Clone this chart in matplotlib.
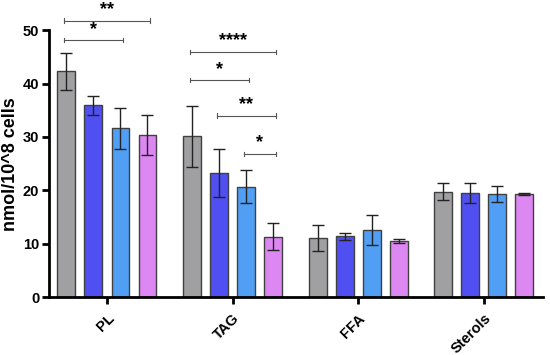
import matplotlib
matplotlib.use("Agg")
import matplotlib.pyplot as plt
import numpy as np

plt.rcParams["font.family"] = ["Liberation Sans", "DejaVu Sans"]

categories = ["PL", "TAG", "FFA", "Sterols"]
series_colors = ["#a0a0a2", "#5050f2", "#509ff5", "#dd88f2"]
means = [
    [42.3, 30.1, 11.1, 19.7],
    [35.9, 23.2, 11.4, 19.5],
    [31.6, 20.7, 12.6, 19.3],
    [30.4, 11.3, 10.5, 19.3],
]
errs = [
    [3.5, 5.7, 2.5, 1.6],
    [1.7, 4.5, 0.7, 1.9],
    [3.8, 3.1, 2.8, 1.5],
    [3.7, 2.5, 0.4, 0.15],
]
# significance brackets: (group, series_a, series_b, y, label)
brackets = [
    (0, 0, 3, 51.8, "**"),
    (0, 0, 2, 48.1, "*"),
    (1, 0, 3, 45.9, "****"),
    (1, 0, 2, 40.6, "*"),
    (1, 1, 3, 34.0, "**"),
    (1, 2, 3, 26.8, "*"),
]

fig = plt.figure(figsize=(5.5, 3.55), dpi=100)
ax = fig.add_axes([0.089, 0.163, 0.898, 0.752])

step = 0.215
width = 0.143
x = np.arange(len(categories))
for i, (m, e, c) in enumerate(zip(means, errs, series_colors)):
    pos = x + (i - 1.5) * step
    ax.bar(pos, m, width=width, color=c, edgecolor="#404040", linewidth=1.0, zorder=2)
    ax.errorbar(pos, m, yerr=e, fmt="none", ecolor="#222222", elinewidth=1.0,
                capsize=4, capthick=1.0, zorder=3)

for g, a, b, yv, lab in brackets:
    xa = g + (a - 1.5) * step - 0.02
    xb = g + (b - 1.5) * step + 0.02
    ax.plot([xa, xb], [yv, yv], color="#555555", lw=0.8, clip_on=False, zorder=4)
    for xx in (xa, xb):
        ax.plot([xx, xx], [yv - 0.4, yv + 0.4], color="#555555", lw=0.8, clip_on=False)
    ax.text((xa + xb) / 2, yv + 0.5, lab, ha="center", va="bottom", fontsize=13,
            fontweight="bold", clip_on=False)

ax.set_xlim(-0.462, 3.47)
ax.set_ylim(0, 50)
ax.set_yticks([0, 10, 20, 30, 40, 50])
ax.set_xticks(x)
ax.set_xticklabels(categories, rotation=45, ha="right", rotation_mode="anchor",
                   fontsize=10.5, fontweight="bold")
for lbl in ax.get_yticklabels():
    lbl.set_fontweight("bold")
    lbl.set_fontsize(10.5)
ax.set_ylabel("nmol/10^8 cells", fontsize=13, fontweight="bold", labelpad=3)
for s in ["top", "right"]:
    ax.spines[s].set_visible(False)
for s in ["left", "bottom"]:
    ax.spines[s].set_linewidth(2)
ax.tick_params(axis="both", width=2, length=5, direction="out")
ax.tick_params(axis="y", pad=2)
ax.tick_params(axis="x", pad=5)

fig.savefig("out.png", dpi=100)
